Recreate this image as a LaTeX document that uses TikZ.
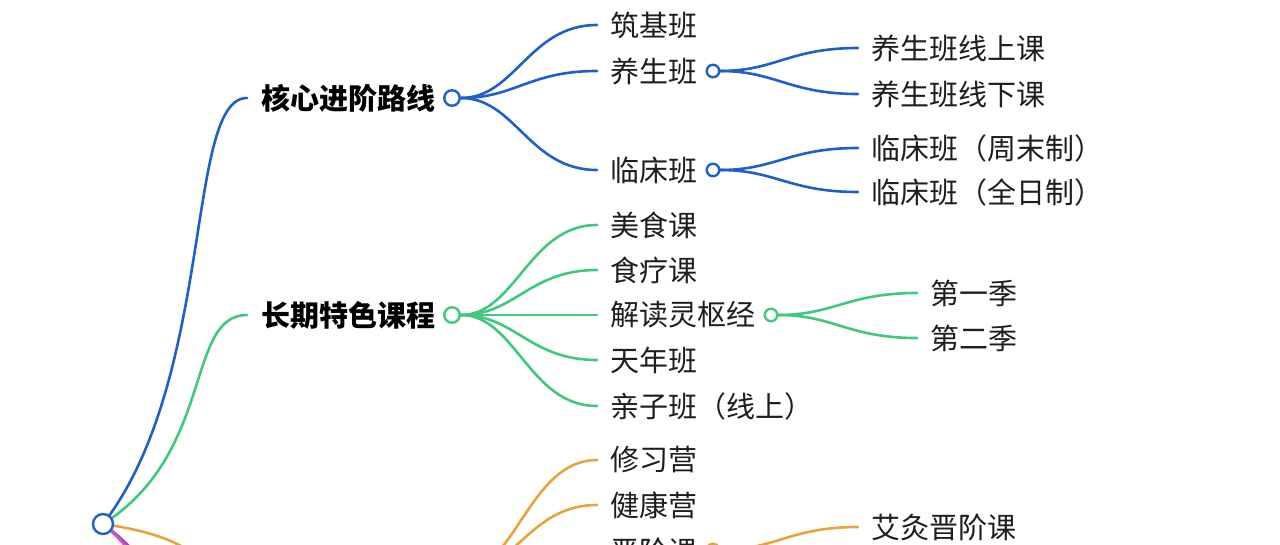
\documentclass[tikz,border=0pt]{standalone}
\usepackage{fontspec}
\setmainfont{Noto Sans CJK SC}
\usetikzlibrary{calc}
\definecolor{cblue}{HTML}{1F5FCC}
\definecolor{cgreen}{HTML}{40C87C}
\definecolor{corange}{HTML}{E8A33A}
\definecolor{cpink}{HTML}{D257B8}
\definecolor{cpurple}{HTML}{9A4CC4}
\definecolor{ctext}{HTML}{1E1E1E}
\begin{document}
\begin{tikzpicture}[x=1pt,y=-1pt,
  txt/.style={anchor=west,inner sep=0pt,font=\fontsize{29}{34}\selectfont,text=ctext},
  head/.style={anchor=west,inner sep=0pt,font=\fontsize{29}{34}\selectfont\bfseries,text=black},
  dot/.style={circle,draw,fill=white,line width=2.4pt,minimum size=12.5pt,inner sep=0pt},
  bigdot/.style={dot,minimum size=15.5pt},
  link/.style={line width=2.6pt,line cap=round},
  kid/.style={to path={let \p1=(\tikztostart),\p2=(\tikztotarget) in
     .. controls ({\x1+0.4*(\x2-\x1)},\y1) and ({\x1+0.5*(\x2-\x1)},\y2) .. (\tikztotarget)}},
  trunk/.style={to path={let \p1=(\tikztostart),\p2=(\tikztotarget) in
     .. controls ({\x1+0.78*(\x2-\x1)},{\y1+0.34*(\y2-\y1)}) and ({\x1+0.57*(\x2-\x1)},\y2) .. (\tikztotarget)}}
]
\useasboundingbox (0,0) rectangle (1280,544);
\clip (0,0) rectangle (1280,544);

% root
\coordinate (rootc) at (103,524);

% level 1
\node[head] (ta) at (261,98) {核心进阶路线};
\node[head] (tb) at (261,315) {长期特色课程};
\node[bigdot,draw=cblue] (ca) at (452,98) {};
\node[bigdot,draw=cgreen] (cb) at (452,315) {};
\coordinate (ina) at (247,98);
\coordinate (inb) at (247,315);
\coordinate (inc) at (247,572);
\coordinate (ind) at (247,760);
\coordinate (ine) at (247,800);
\coordinate (cc) at (461,572);

% level 2 blue
\node[txt] (a1) at (610,25) {筑基班};
\node[txt] (a2) at (610,71) {养生班};
\node[txt] (a3) at (610,170) {临床班};
\node[dot,draw=cblue] (ca2) at (713,71) {};
\node[dot,draw=cblue] (ca3) at (713,170) {};
% level 2 green
\node[txt] (b1) at (610,225) {美食课};
\node[txt] (b2) at (610,270) {食疗课};
\node[txt] (b3) at (610,315) {解读灵枢经};
\node[txt] (b4) at (610,360) {天年班};
\node[txt] (b5) at (610,406) {亲子班（线上）};
\node[dot,draw=cgreen] (cb3) at (771,315) {};
% level 2 orange
\node[txt] (c1) at (610,460) {修习营};
\node[txt] (c2) at (610,505) {健康营};
\node[txt] (c3) at (610,551) {晋阶课};
\node[dot,draw=corange] (cc3) at (713,550) {};

% level 3
\node[txt] (a21) at (871,48) {养生班线上课};
\node[txt] (a22) at (871,94) {养生班线下课};
\node[txt] (a31) at (871,148) {临床班（周末制）};
\node[txt] (a32) at (871,192) {临床班（全日制）};
\node[txt] (b31) at (930,293) {第一季};
\node[txt] (b32) at (930,338) {第二季};
\node[txt] (c31) at (871,527) {艾灸晋阶课};

% trunks from root
\draw[link,cpurple] (rootc) to[trunk] (ind);
\draw[link,cpink] (rootc) to[trunk] (ine);
\draw[link,corange] (rootc) to[trunk] (inc);
\draw[link,cgreen] (rootc) to[trunk] (inb);
\draw[link,cblue] (rootc) to[trunk] (ina);

% blue branches
\foreach \t in {a1,a2,a3} \draw[link,cblue] (ca.east) to[kid] ([xshift=-13pt]\t.west);
\foreach \t in {a21,a22} \draw[link,cblue] (ca2.east) to[kid] ([xshift=-13pt]\t.west);
\foreach \t in {a31,a32} \draw[link,cblue] (ca3.east) to[kid] ([xshift=-13pt]\t.west);
% green branches
\foreach \t in {b1,b2,b3,b4,b5} \draw[link,cgreen] (cb.east) to[kid] ([xshift=-13pt]\t.west);
\foreach \t in {b31,b32} \draw[link,cgreen] (cb3.east) to[kid] ([xshift=-13pt]\t.west);
% orange branches
\foreach \t in {c1,c2,c3} \draw[link,corange] (cc) to[kid] ([xshift=-13pt]\t.west);
\draw[link,corange] (cc3.east) to[kid] ([xshift=-13pt]c31.west);

% root circle on top
\node[dot,draw=cblue,minimum size=20pt] (root) at (rootc) {};
\end{tikzpicture}
\end{document}
